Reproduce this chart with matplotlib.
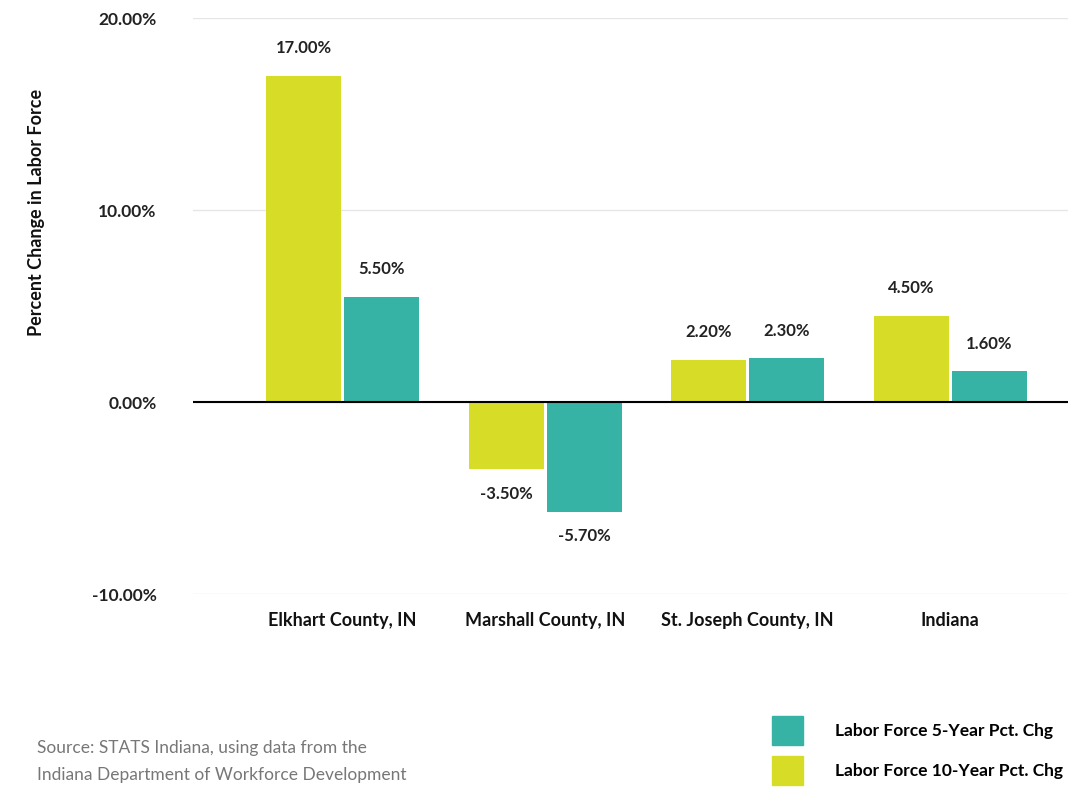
import matplotlib.pyplot as plt
from matplotlib.patches import Patch
import numpy as np

# Chart data
categories = ['Elkhart County, IN', 'Marshall County, IN', 'St. Joseph County, IN', 'Indiana']
ten_year = [17.0, -3.5, 2.2, 4.5]
five_year = [5.5, -5.7, 2.3, 1.6]
yticks = [-10, 0, 10, 20]

yellow = '#D7DD27'
teal = '#36B3A4'

plt.rcParams['font.family'] = ['Lato', 'DejaVu Sans']

fig = plt.figure(figsize=(10.71, 7.87), dpi=100)
ax = fig.add_axes([0.180, 0.245, 0.817, 0.732])

x = np.arange(len(categories))
w = 0.37
b10 = ax.bar(x - w / 2 - 0.007, ten_year, w, color=yellow, zorder=3)
b5 = ax.bar(x + w / 2 + 0.007, five_year, w, color=teal, zorder=3)

# value labels
for bars, vals in [(b10, ten_year), (b5, five_year)]:
    for bar, v in zip(bars, vals):
        cx = bar.get_x() + bar.get_width() / 2
        if v >= 0:
            ax.annotate(f'{v:.2f}%', (cx, v), xytext=(0, 14), textcoords='offset points',
                        ha='center', va='bottom', fontsize=12, fontweight='bold', color='#222222')
        else:
            ax.annotate(f'{v:.2f}%', (cx, v), xytext=(0, -12), textcoords='offset points',
                        ha='center', va='top', fontsize=12, fontweight='bold', color='#222222')

ax.set_xlim(-0.74, 3.58)
ax.set_ylim(-10, 20)
ax.set_yticks(yticks)
ax.set_yticklabels([f'{t:.2f}%' for t in yticks], fontsize=12.5, fontweight='bold', color='#222222')
ax.set_xticks(x)
ax.set_xticklabels(categories, fontsize=13, fontweight='bold', color='#111111')
ax.tick_params(axis='both', length=0)
ax.tick_params(axis='y', pad=26)
ax.tick_params(axis='x', pad=13)

ax.grid(axis='y', color='#e6e6e6', linewidth=1, zorder=0)
ax.axhline(0, color='black', linewidth=1.5, zorder=4)
for s in ax.spines.values():
    s.set_visible(False)

fig.text(37 / 1071, 1 - 212 / 787, 'Percent Change in Labor Force', rotation=90,
         ha='center', va='center', fontsize=13, fontweight='bold', color='#111111')

fig.text(37 / 1071, 1 - 748 / 787, 'Source: STATS Indiana, using data from the',
         ha='left', va='center', fontsize=12.5, color='#777777')
fig.text(37 / 1071, 1 - 775 / 787, 'Indiana Department of Workforce Development',
         ha='left', va='center', fontsize=12.5, color='#777777')

handles = [Patch(color=teal, label='Labor Force 5-Year Pct. Chg'),
           Patch(color=yellow, label='Labor Force 10-Year Pct. Chg')]
leg = fig.legend(handles=handles, loc='upper left', bbox_to_anchor=(772 / 1071, 1 - 716 / 787),
                 frameon=False, handlelength=1.79, handleheight=2.2, handletextpad=1.84,
                 labelspacing=0.65, borderaxespad=0, borderpad=0,
                 prop={'size': 12.5, 'weight': 'bold'})

fig.savefig('out.png', dpi=100)
